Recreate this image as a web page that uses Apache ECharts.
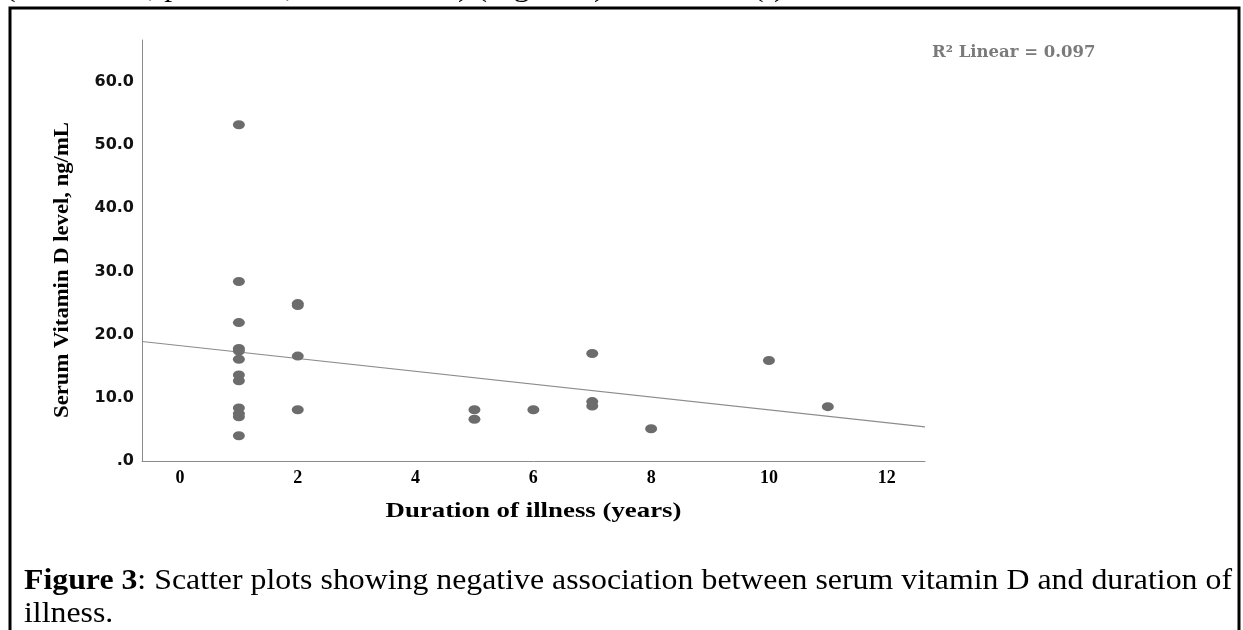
<!DOCTYPE html>
<html><head><meta charset="utf-8">
<script src="https://cdn.jsdelivr.net/npm/echarts@6/dist/echarts.min.js"></script>
<style>html,body{margin:0;padding:0;background:#fff}#c{width:1243px;height:630px}</style>
</head><body><div id="c"></div>
<script>
// ---- data ----
const xTicks = [0, 2, 4, 6, 8, 10, 12];
const yTicks = [0, 10, 20, 30, 40, 50, 60];
const durationYears = [1,1,1,1,1,1,1,1,1,1,1,1, 2,2,2,2, 5,5, 6, 7,7,7, 8, 10, 11];
const vitaminD = [53.2,28.4,21.9,17.8,17.4,16.1,13.6,12.7,8.4,7.5,7.0,4.0, 24.9,24.6,16.6,8.1, 8.1,6.6, 8.1, 17.0,9.4,8.7, 5.1, 15.9, 8.6];
const fitLineX = [-0.645, 12.65];
const fitLineY = [18.9, 5.4];
const xAxisTitle = 'Duration of illness (years)';
const yAxisTitle = 'Serum Vitamin D level, ng/mL';
const fitLabel = 'R\u00B2 Linear = 0.097';
const captionBold = 'Figure 3';
const captionLine1 = 'Scatter plots showing negative association between serum vitamin D and duration of';
const captionLine2 = 'illness.';
const topTextLine = '(r = \u22120.311, p = 0.131, n = 25 cases) (Figure 3). The weak (r) observed between serum vitamin D level';

const scatterData = durationYears.map((x, i) => [x, vitaminD[i]]);
const fitData = fitLineX.map((x, i) => [x, fitLineY[i]]);

const SERIF = '"Liberation Serif", "Times New Roman", serif';
const chart = echarts.init(document.getElementById('c'), null, {renderer: 'canvas'});

const cv = document.createElement('canvas').getContext('2d');
function measure(t, font) { cv.font = font; return cv.measureText(t).width; }

// caption: justified line built word by word
const capSize = 30, capScale = 1.06;
const fontB = 'bold ' + capSize + 'px ' + SERIF;
const fontN = capSize + 'px ' + SERIF;
const capLeft = 24, capRight = 1232, capY = 581;
const words = [captionBold + ':'].concat(captionLine1.split(' '));
const wW = words.map((w, i) => (i === 0 ? measure(captionBold, fontB) + measure(':', fontN) : measure(w, fontN)) * capScale);
const total = wW.reduce((a, b) => a + b, 0);
const gap = (capRight - capLeft - total) / (words.length - 1);
const capGraphics = [];
let cx = capLeft;
function txt(text, x, y, font, extra) {
  return Object.assign({type: 'text', x: x, y: y, scaleX: capScale,
    style: {text: text, x: 0, y: 0, font: font, fill: '#000', textVerticalAlign: 'middle'}}, extra || {});
}
words.forEach((w, i) => {
  if (i === 0) {
    capGraphics.push(txt(captionBold, cx, capY, fontB));
    capGraphics.push(txt(':', cx + measure(captionBold, fontB) * capScale, capY, fontN));
  } else {
    capGraphics.push(txt(w, cx, capY, fontN));
  }
  cx += wW[i] + gap;
});

const option = {
  backgroundColor: '#fff',
  animation: false,
  grid: {left: 142, top: 40, right: 1243 - 925, bottom: 630 - 461, containLabel: false},
  xAxis: {
    type: 'value', min: fitLineX[0], max: fitLineX[1],
    axisLine: {show: true, onZero: false, lineStyle: {color: '#8a8a8a', width: 1}},
    axisTick: {show: false},
    splitLine: {show: false},
    axisLabel: {customValues: xTicks, margin: 8, color: '#000', fontFamily: SERIF, fontWeight: 'bold', fontSize: 18}
  },
  yAxis: {
    type: 'value', min: 0, max: 66.6,
    axisLine: {show: true, onZero: false, lineStyle: {color: '#8a8a8a', width: 1}},
    axisTick: {show: false},
    splitLine: {show: false},
    axisLabel: {customValues: yTicks, margin: 8, color: '#111', fontFamily: 'DejaVu Sans', fontWeight: 'bold', fontSize: 16,
      formatter: v => v === 0 ? '.0' : v.toFixed(1)}
  },
  series: [
    {type: 'line', data: fitData, symbol: 'none', silent: true,
      lineStyle: {color: '#8c8c8c', width: 1.2}, z: 1},
    {type: 'scatter', data: scatterData, symbol: 'circle', symbolSize: [12, 9],
      itemStyle: {color: '#6c6c6c', opacity: 1}, z: 2}
  ],
  graphic: [
    txt(topTextLine, 5, -11.5, fontN),
    {type: 'rect', shape: {x: 10, y: 8, width: 1229, height: 700}, style: {fill: 'none', stroke: '#000', lineWidth: 3}},
    {type: 'text', style: {text: fitLabel, x: 932, y: 53, font: 'bold 16.5px "DejaVu Serif", serif', fill: '#7a7a7a', textVerticalAlign: 'middle'}},
    {type: 'text', x: 533.5, y: 511, scaleX: 1.22,
      style: {text: xAxisTitle, x: 0, y: 0, font: 'bold 22px ' + SERIF, fill: '#000', textAlign: 'center', textVerticalAlign: 'middle'}},
    {type: 'text', rotation: Math.PI / 2, x: 63, y: 270, scaleX: 1.08,
      style: {text: yAxisTitle, x: 0, y: 0, font: 'bold 21px ' + SERIF, fill: '#000', textAlign: 'center', textVerticalAlign: 'middle'}},
    ...capGraphics,
    txt(captionLine2, capLeft, 614, fontN)
  ]
};
chart.setOption(option);
</script>
</body></html>
